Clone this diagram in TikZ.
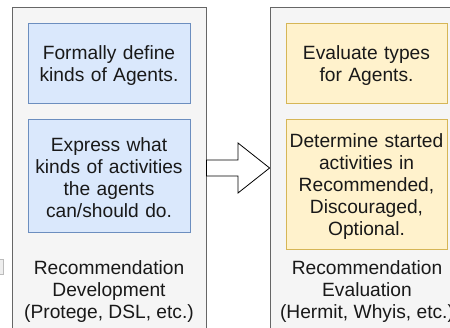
\documentclass[tikz,border=0pt]{standalone}
\usepackage{fontspec}
\setmainfont{Liberation Sans}
\usepackage{tikz}

\definecolor{panelfill}{HTML}{F5F5F5}
\definecolor{paneldraw}{HTML}{666666}
\definecolor{bluefill}{HTML}{DAE8FC}
\definecolor{bluedraw}{HTML}{6C8EBF}
\definecolor{yellowfill}{HTML}{FFF2CC}
\definecolor{yellowdraw}{HTML}{D6B656}
\definecolor{stubfill}{HTML}{EEEEEE}
\definecolor{stubdraw}{HTML}{BBBBBB}

\begin{document}
\begin{tikzpicture}[x=1pt, y=-1pt,
        every node/.style={font=\fontsize{19.2}{22}\selectfont, text=black!90, inner sep=0pt},
        panel/.style={draw=paneldraw, fill=panelfill, line width=0.8pt, rectangle},
        bluebox/.style={draw=bluedraw, fill=bluefill, line width=0.8pt, minimum width=162pt, text width=160pt, align=center, execute at begin node={\rule{0pt}{19pt}}},
        yellowbox/.style={draw=yellowdraw, fill=yellowfill, line width=0.8pt, minimum width=161pt, text width=159pt, align=center, execute at begin node={\rule{0pt}{19pt}}},
        caption/.style={align=center}]
        \useasboundingbox (0,0) rectangle (450,328);
        \clip (0,0) rectangle (450,328);
        \fill[white] (0,0) rectangle (450,328);
        % small cut-off box at the left edge
        \draw[draw=stubdraw, fill=stubfill, line width=0.6pt] (-2,259) rectangle (3,274);
        % left panel
        \node[panel, minimum width=194pt, minimum height=333pt] (devpanel) at (109,173.5) {};
        % right panel
        \node[panel, minimum width=200pt, minimum height=333pt] (evalpanel) at (370,173.5) {};
        % blue boxes in the left panel
        \node[bluebox, minimum height=80pt] (define) at (109,63) {Formally define\\kinds of Agents.};
        \node[bluebox, minimum height=113pt] (express) at (109,175.5) {Express what\\kinds of activities\\the agents\\can/should do.};
        % yellow boxes in the right panel
        \node[yellowbox, minimum height=80pt] (types) at (366.5,63) {Evaluate types\\for Agents.};
        \node[yellowbox, minimum height=130pt] (started) at (366.5,184) {Determine started\\activities in\\Recommended,\\Discouraged,\\Optional.};
        % panel captions
        \node[caption] (devlabel) at (109,292) {Recommendation\\Development\\(Protege, DSL, etc.)};
        \node[caption] (evallabel) at (367,292) {Recommendation\\Evaluation\\(Hermit, Whyis, etc.)};
        % block arrow from the left panel to the right panel
        \draw[line width=0.8pt, fill=white, line join=miter]
            (devpanel.east |- 0,160) -- (238,160) -- (238,143) -- (evalpanel.west |- 0,168)
            -- (238,193) -- (238,176) -- (devpanel.east |- 0,176) -- cycle;
\end{tikzpicture}
\end{document}
